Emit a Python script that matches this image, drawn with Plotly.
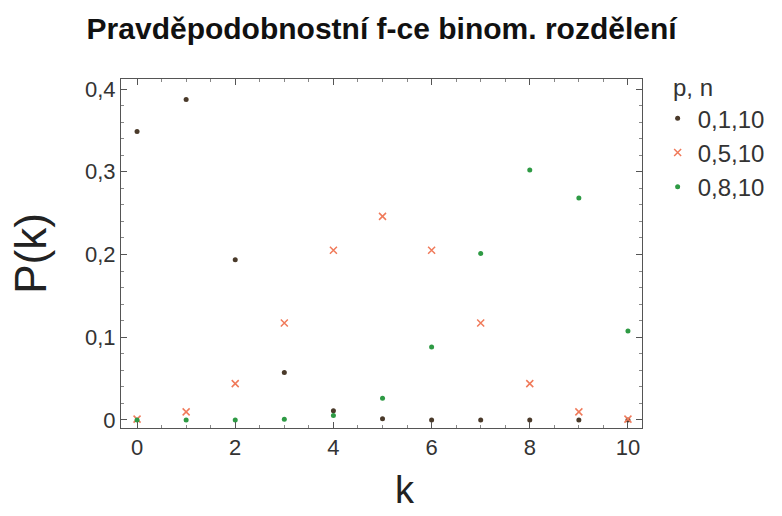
import plotly.graph_objects as go

k = list(range(11))
p01 = [0.3487, 0.3874, 0.1937, 0.0574, 0.0112, 0.0015, 0.0001, 0.0, 0.0, 0.0, 0.0]
p05 = [0.0010, 0.0098, 0.0439, 0.1172, 0.2051, 0.2461, 0.2051, 0.1172, 0.0439, 0.0098, 0.0010]
p08 = [0.0, 0.0, 0.0001, 0.0008, 0.0055, 0.0264, 0.0881, 0.2013, 0.3020, 0.2684, 0.1074]
names = ["0,1,10", "0,5,10", "0,8,10"]

fig = go.Figure()
fig.add_trace(go.Scatter(x=k, y=p01, mode="markers", name=names[0],
                         marker=dict(symbol="circle", size=5, color="#4a3a2a")))
fig.add_trace(go.Scatter(x=k, y=p05, mode="markers", name=names[1],
                         marker=dict(symbol="x-thin", size=7, color="#f07a5a",
                                     line=dict(width=1.5, color="#f07a5a"))))
fig.add_trace(go.Scatter(x=k, y=p08, mode="markers", name=names[2],
                         marker=dict(symbol="circle", size=5, color="#2e9a44")))

font = "Liberation Sans, Arial, sans-serif"
axis_common = dict(showline=True, linecolor="#555", linewidth=1, mirror="ticks",
                   ticks="inside", ticklen=6, tickcolor="#555", showgrid=False,
                   zeroline=False, tickfont=dict(size=22, color="#333", family=font))
fig.update_layout(
    width=782, height=516,
    margin=dict(l=121, r=140, t=79, b=88),
    paper_bgcolor="white", plot_bgcolor="white",
    separators=", ",
    title=dict(text="<b>Pravděpodobnostní f-ce binom. rozdělení</b>",
               x=0.488, xanchor="center", y=0.944, yanchor="middle",
               font=dict(size=30, family=font, color="#111")),
    xaxis=dict(range=[-0.327, 10.286], tickvals=[0, 2, 4, 6, 8, 10],
               minor=dict(dtick=0.5, ticks="inside", ticklen=3, tickcolor="#888"),
               **axis_common),
    yaxis=dict(range=[-0.0097, 0.4121], tickvals=[0, 0.1, 0.2, 0.3, 0.4],
               tickformat=".1~f",
               minor=dict(dtick=0.02, ticks="inside", ticklen=3, tickcolor="#888"),
               title=dict(text="P(k)", font=dict(size=44, family=font, color="#222"), standoff=24),
               **axis_common),
    legend=dict(x=1.03, y=1.04, xanchor="left", yanchor="top",
                title=dict(text="\u00a0\u00a0p, n", font=dict(size=24, family=font, color="#333")),
                font=dict(size=24, family=font, color="#333"),
                itemwidth=30, tracegroupgap=0, bgcolor="rgba(0,0,0,0)"),
    annotations=[dict(text="k", xref="paper", yref="paper", x=0.545, y=-0.178,
                      xanchor="center", yanchor="middle", showarrow=False,
                      font=dict(size=38, family=font, color="#222"))],
)
fig.write_html("out.html")
